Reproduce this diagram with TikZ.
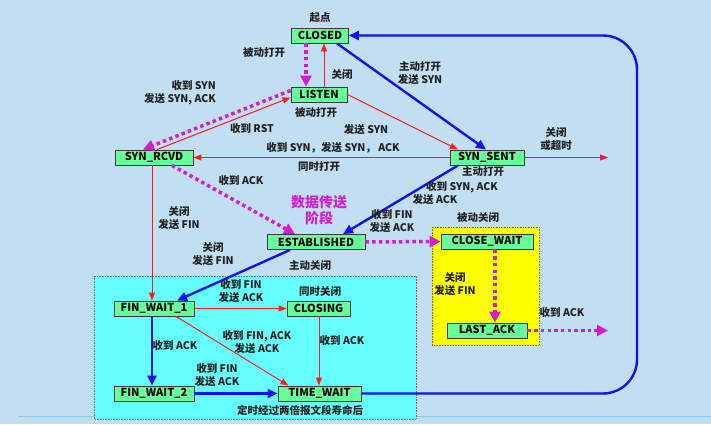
\documentclass[tikz,border=0pt]{standalone}
\usepackage{fontspec}
\setmainfont{Noto Sans CJK SC}
\usetikzlibrary{arrows.meta}
\definecolor{bg}{HTML}{C2DEF2}
\definecolor{bgline}{HTML}{8CC6EE}
\definecolor{stgreen}{HTML}{66FF99}
\definecolor{stborder}{HTML}{3A3A3A}
\definecolor{zcyan}{HTML}{66FFFF}
\definecolor{zyellow}{HTML}{FFFF00}
\definecolor{cred}{HTML}{FF1A1A}
\definecolor{cblue}{HTML}{1010F0}
\definecolor{cmag}{HTML}{D21ED2}
\definecolor{txt}{HTML}{202020}
\tikzset{
  state/.style={draw=stborder, fill=stgreen, line width=0.9pt, minimum height=15pt, inner sep=0pt,
    font=\fontsize{11}{12}\selectfont\bfseries, text=black},
  lbl/.style={inner sep=0pt, align=center, text=txt, font=\fontsize{10.5}{13}\selectfont\bfseries},
  redarr/.style={draw=cred, line width=1pt, -{Triangle[length=8pt,width=6pt]}},
  bluearr/.style={draw=cblue, line width=2.4pt, -{Triangle[length=10pt,width=9pt]}},
  magarr/.style={draw=cmag, line width=3.5pt, dash pattern=on 3.5pt off 3.2pt,
    -{Triangle[length=11pt,width=11pt]}},
  zone/.style={draw=stborder!70, line width=0.6pt, densely dotted}
}
\begin{document}
\begin{tikzpicture}[x=1pt,y=-1pt]
\fill[bg] (0,0) rectangle (711,424);
\useasboundingbox (0,0) rectangle (711,424);
\draw[bgline, line width=1.6pt] (18,416.5) -- (711,416.5);
% zones
\draw[zone, fill=zcyan] (94,276) rectangle (416,419);
\draw[zone, fill=zyellow] (432,227) rectangle (539,345);
% states
\node[state, minimum width=57pt] (CLOSED) at (320,35.5) {CLOSED};
\node[state, minimum width=56pt] (LISTEN) at (319,94.5) {LISTEN};
\node[state, minimum width=78pt] (SYNRCVD) at (154,157.5) {SYN\_RCVD};
\node[state, minimum width=74pt] (SYNSENT) at (487,157.5) {SYN\_SENT};
\node[state, minimum width=98pt] (EST) at (316,242) {ESTABLISHED};
\node[state, minimum width=92pt] (CLOSEWAIT) at (487,241.5) {CLOSE\_WAIT};
\node[state, minimum width=80pt] (LASTACK) at (487,330.5) {LAST\_ACK};
\node[state, minimum width=80pt] (FW1) at (154,308.5) {FIN\_WAIT\_1};
\node[state, minimum width=63pt] (CLOSING) at (318.5,308.5) {CLOSING};
\node[state, minimum width=80pt] (FW2) at (154,393.5) {FIN\_WAIT\_2};
\node[state, minimum width=83pt] (TW) at (319.5,393.5) {TIME\_WAIT};
% free ends
\coordinate (e1) at (608,157.5);
\coordinate (e2) at (608,330.5);
\coordinate (loop) at (637,210);
% connectors
\draw[magarr] ([xshift=-14pt]CLOSED.south) -- ([xshift=-13pt]LISTEN.north);
\draw[redarr] ([xshift=5pt]LISTEN.north) -- ([xshift=4pt]CLOSED.south);
\draw[magarr] ([yshift=4pt]LISTEN.west) -- ([xshift=-11pt]SYNRCVD.north);
\draw[redarr] ([xshift=3pt]SYNRCVD.north) -- ([yshift=-3pt]LISTEN.west);
\draw[redarr] (LISTEN.east) -- ([xshift=-29pt]SYNSENT.north);
\draw[bluearr] ([xshift=17pt]CLOSED.south) -- ([xshift=-1pt]SYNSENT.north);
\draw[redarr] (SYNSENT.west) -- (SYNRCVD.east);
\draw[redarr] (SYNSENT.east) -- (e1);
\draw[bluearr] ([xshift=-29pt]SYNSENT.south) -- ([xshift=27pt]EST.north);
\draw[magarr] ([xshift=18pt]SYNRCVD.south) -- ([xshift=-21pt]EST.north);
\draw[magarr] (EST.east) -- (CLOSEWAIT.west);
\draw[redarr] ([xshift=-2pt]SYNRCVD.south) -- ([xshift=-2pt]FW1.north);
\draw[bluearr] ([xshift=-26pt]EST.south) -- ([xshift=23pt]FW1.north);
\draw[redarr] (FW1.east) -- (CLOSING.west);
\draw[redarr] ([xshift=22pt]FW1.south) -- ([xshift=-31pt]TW.north);
\draw[redarr] ([xshift=0.5pt]CLOSING.south) -- ([xshift=-0.5pt]TW.north);
\draw[bluearr] ([xshift=-2pt]FW1.south) -- ([xshift=-2pt]FW2.north);
\draw[bluearr] (FW2.east) -- (TW.west);
\draw[magarr] ([xshift=8pt]CLOSEWAIT.south) -- ([xshift=8pt]LASTACK.north);
\draw[magarr] (LASTACK.east) -- (e2);
\draw[bluearr, rounded corners=34pt] (TW.east) -| (loop) |- (CLOSED.east);
% labels
\node[lbl] (l1) at (320,18) {起点};
\node[lbl] (l2) at (264,53) {被动打开};
\node[lbl] (l3) at (342,74) {关闭};
\node[lbl, align=right, anchor=east] (l4) at (216,92.5) {收到 SYN\\发送 SYN, ACK};
\node[lbl] (l5) at (316,113) {被动打开};
\node[lbl] (l6) at (252,129) {收到 RST};
\node[lbl] (l7) at (366,130) {发送 SYN};
\node[lbl] (l8) at (333,148) {收到 SYN，发送 SYN， ACK};
\node[lbl] (l9) at (319,167) {同时打开};
\node[lbl] (l10) at (420,73) {主动打开\\发送 SYN};
\node[lbl] (l11) at (556,139.5) {关闭\\或超时};
\node[lbl] (l12) at (483,172) {主动打开};
\node[lbl] (l13) at (462,187) {收到 SYN, ACK};
\node[lbl] (l14) at (435,200) {发送 ACK};
\node[lbl] (l15) at (241,181) {收到 ACK};
\node[lbl, text=cmag, font=\fontsize{14}{16}\selectfont\bfseries] (l16) at (319,210) {数据传送\\阶段};
\node[lbl] (l17) at (179,218.5) {关闭\\发送 FIN};
\node[lbl] (l18) at (392,221.5) {收到 FIN\\发送 ACK};
\node[lbl] (l19) at (478,217) {被动关闭};
\node[lbl] (l20) at (213,254.5) {关闭\\发送 FIN};
\node[lbl] (l21) at (310,265) {主动关闭};
\node[lbl] (l22) at (241,291) {收到 FIN\\发送 ACK};
\node[lbl] (l23) at (320,291) {同时关闭};
\node[lbl] (l24) at (257,342) {收到 FIN, ACK\\发送 ACK};
\node[lbl] (l25) at (342,341) {收到 ACK};
\node[lbl] (l26) at (175,346) {收到 ACK};
\node[lbl] (l27) at (217,375) {收到 FIN\\发送 ACK};
\node[lbl] (l28) at (300,410) {定时经过两倍报文段寿命后};
\node[lbl] (l29) at (455,284) {关闭\\发送 FIN};
\node[lbl] (l30) at (562,313) {收到 ACK};
\end{tikzpicture}
\end{document}
